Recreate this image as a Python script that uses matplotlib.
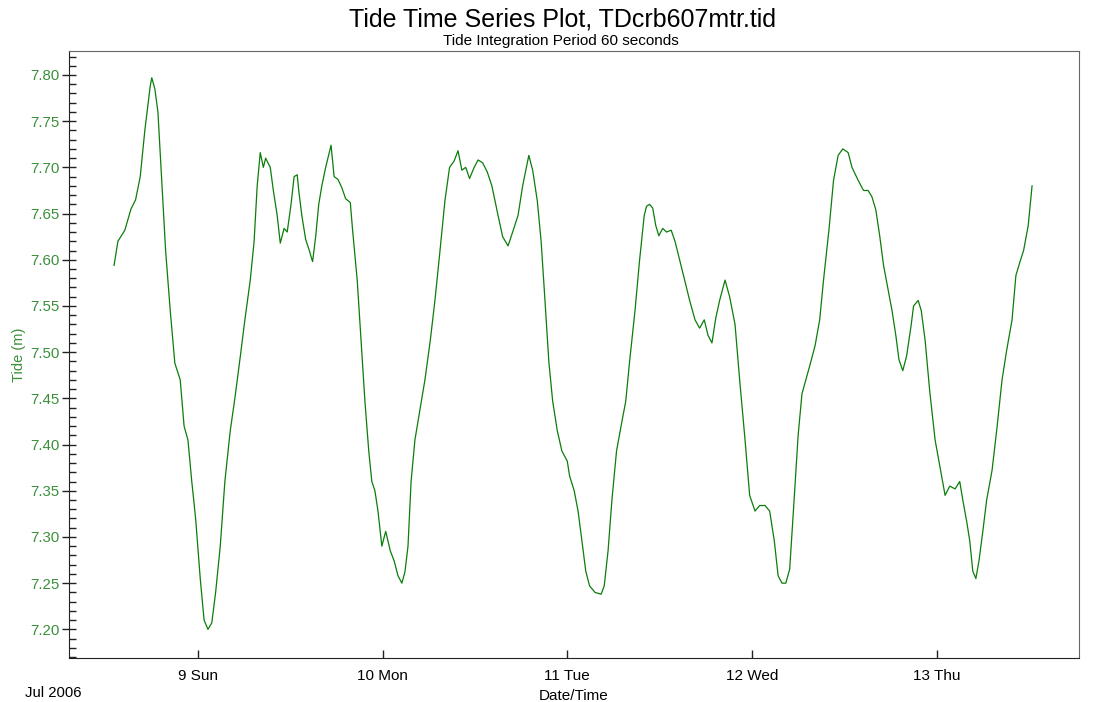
import pandas as pd
import matplotlib
matplotlib.use('Agg')
import matplotlib.pyplot as plt
import matplotlib.dates as mdates
from matplotlib.ticker import MultipleLocator

plt.rcParams['font.family'] = ['Liberation Sans', 'DejaVu Sans']

# Hours since 2006-07-08 00:00 and tide height (m)
hours = [13.1, 13.6, 14.5, 15.3, 15.9, 16.5, 17.1, 17.8, 18.0, 18.4,
         18.8, 19.3, 19.8, 20.4, 21.0, 21.7, 22.2, 22.7, 23.2, 23.7,
         24.3, 24.8, 25.3, 25.8, 26.3, 26.9, 27.5, 28.2, 28.8, 29.5,
         30.1, 30.8, 31.3, 31.7, 32.1, 32.5, 32.8, 33.4, 33.8, 34.3,
         34.7, 35.2, 35.6, 36.1, 36.5, 36.9, 37.1, 37.5, 38.0, 38.4,
         38.9, 39.3, 39.7, 40.1, 40.6, 41.3, 41.7, 42.2, 42.7, 43.2,
         43.8, 44.1, 44.7, 45.2, 45.7, 46.2, 46.6, 47.0, 47.4, 47.9,
         48.4, 49.0, 49.5, 50.0, 50.5, 50.9, 51.3, 51.7, 52.2, 52.9,
         53.5, 54.2, 54.8, 55.4, 56.1, 56.7, 57.3, 57.8, 58.3, 58.8,
         59.3, 59.9, 60.4, 61.0, 61.6, 62.2, 63.0, 63.6, 64.3, 64.9,
         65.6, 66.2, 67.0, 67.5, 68.1, 68.6, 69.1, 69.6, 70.1, 70.7,
         71.3, 72.0, 72.3, 72.9, 73.4, 73.9, 74.4, 74.9, 75.6, 76.4,
         76.8, 77.3, 77.8, 78.4, 79.1, 79.6, 80.1, 80.8, 81.4, 82.0,
         82.3, 82.7, 83.1, 83.5, 83.9, 84.4, 84.9, 85.5, 86.0, 86.6,
         87.4, 87.9, 88.6, 89.2, 89.8, 90.3, 90.8, 91.3, 91.8, 92.5,
         93.1, 93.8, 94.4, 95.1, 95.7, 96.4, 97.0, 97.7, 98.3, 98.9,
         99.4, 99.9, 100.4, 100.9, 101.4, 102.0, 102.5, 103.0, 103.5, 104.2,
         104.8, 105.3, 106.0, 106.6, 107.2, 107.8, 108.5, 109.0, 109.8, 110.5,
         111.1, 111.6, 112.1, 112.6, 113.1, 113.7, 114.2, 114.7, 115.1, 115.6,
         116.1, 116.7, 117.0, 117.6, 118.0, 118.5, 119.1, 119.8, 120.4, 121.1,
         121.7, 122.4, 123.0, 123.4, 123.9, 124.3, 124.7, 125.1, 125.5, 126.0,
         126.5, 127.2, 127.8, 128.5, 129.1, 129.8, 130.3, 130.8, 131.3, 131.9,
         132.4]

tide = [7.594, 7.620, 7.632, 7.655, 7.665, 7.690, 7.740, 7.788, 7.797, 7.785,
        7.760, 7.686, 7.610, 7.545, 7.488, 7.470, 7.420, 7.405, 7.360, 7.320,
        7.255, 7.210, 7.200, 7.207, 7.240, 7.290, 7.360, 7.415, 7.450, 7.495,
        7.535, 7.578, 7.620, 7.680, 7.716, 7.700, 7.710, 7.700, 7.675, 7.648,
        7.618, 7.634, 7.630, 7.660, 7.690, 7.692, 7.675, 7.648, 7.622, 7.612,
        7.598, 7.625, 7.660, 7.680, 7.700, 7.724, 7.690, 7.687, 7.678, 7.666,
        7.662, 7.632, 7.578, 7.513, 7.447, 7.393, 7.360, 7.350, 7.328, 7.290,
        7.306, 7.285, 7.274, 7.258, 7.250, 7.262, 7.290, 7.360, 7.405, 7.440,
        7.470, 7.513, 7.556, 7.605, 7.664, 7.700, 7.707, 7.718, 7.697, 7.700,
        7.688, 7.700, 7.708, 7.705, 7.695, 7.680, 7.648, 7.625, 7.615, 7.630,
        7.648, 7.680, 7.713, 7.697, 7.664, 7.620, 7.556, 7.490, 7.447, 7.415,
        7.393, 7.382, 7.366, 7.350, 7.328, 7.296, 7.263, 7.247, 7.240, 7.238,
        7.247, 7.285, 7.340, 7.393, 7.425, 7.447, 7.490, 7.545, 7.600, 7.648,
        7.658, 7.660, 7.656, 7.637, 7.626, 7.634, 7.630, 7.632, 7.620, 7.600,
        7.573, 7.556, 7.535, 7.526, 7.535, 7.518, 7.510, 7.537, 7.556, 7.578,
        7.560, 7.530, 7.470, 7.405, 7.345, 7.328, 7.334, 7.334, 7.328, 7.296,
        7.258, 7.250, 7.250, 7.265, 7.330, 7.410, 7.455, 7.470, 7.485, 7.507,
        7.535, 7.578, 7.632, 7.686, 7.713, 7.720, 7.716, 7.700, 7.686, 7.675,
        7.675, 7.668, 7.654, 7.626, 7.594, 7.567, 7.545, 7.518, 7.492, 7.480,
        7.496, 7.530, 7.550, 7.556, 7.545, 7.513, 7.458, 7.405, 7.377, 7.345,
        7.355, 7.352, 7.360, 7.340, 7.317, 7.296, 7.263, 7.255, 7.274, 7.306,
        7.340, 7.372, 7.415, 7.470, 7.502, 7.535, 7.583, 7.597, 7.610, 7.637,
        7.680]

start = pd.Timestamp('2006-07-08')
times = start + pd.to_timedelta(hours, unit='h')

green = '#0a7d0a'
label_green = '#3a8f3a'

fig = plt.figure(figsize=(11.07, 7.02), dpi=100)
ax = fig.add_axes([0.0623, 0.0627, 0.9124, 0.8647])
ax.plot(times, tide, color=green, lw=0.9)

ax.set_xlim(start + pd.Timedelta(hours=7.24), start + pd.Timedelta(hours=138.5))
ax.set_ylim(7.169, 7.826)

ax.xaxis.set_major_locator(mdates.DayLocator())
ax.xaxis.set_major_formatter(mdates.DateFormatter('%-d %a'))
ax.yaxis.set_major_locator(MultipleLocator(0.05))
ax.yaxis.set_minor_locator(MultipleLocator(0.01))
ax.yaxis.set_major_formatter(plt.FormatStrFormatter('%.2f'))

ax.tick_params(axis='x', direction='in', length=6, width=1, color='#222222',
               labelsize=11, pad=8)
ax.tick_params(axis='y', which='major', direction='inout', length=10, width=1,
               color='#222222', labelsize=10.8, labelcolor=label_green, pad=2)
ax.tick_params(axis='y', which='minor', direction='in', length=5, width=1,
               color='#222222')

for side in ['left', 'bottom']:
    ax.spines[side].set_color('#222222')
for side in ['top', 'right']:
    ax.spines[side].set_color('#666666')

ax.set_ylabel('Tide (m)', color=label_green, fontsize=10.5, labelpad=3)
ax.set_xlabel('Date/Time', fontsize=11, labelpad=4)

fig.text(0.508, 0.972, 'Tide Time Series Plot, TDcrb607mtr.tid',
         ha='center', va='center', fontsize=18)
fig.text(0.507, 0.942, 'Tide Integration Period 60 seconds',
         ha='center', va='center', fontsize=11)
fig.text(0.0226, 0.003, 'Jul 2006', ha='left', va='bottom', fontsize=10.7)

fig.savefig('out.png', dpi=100)
